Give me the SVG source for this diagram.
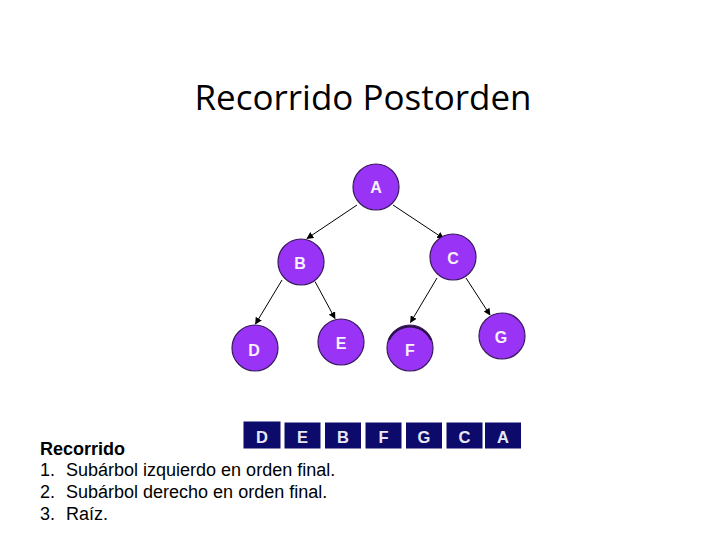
<svg xmlns="http://www.w3.org/2000/svg" width="728" height="546" viewBox="0 0 728 546">
<defs>
<marker id="arr" viewBox="0 0 10 10" refX="9" refY="5" markerWidth="7" markerHeight="7" orient="auto" markerUnits="userSpaceOnUse">
<path d="M0,0 L10,5 L0,10 z" fill="#000"/>
</marker>
</defs>
<style>
.node circle{fill:#9933f5;stroke:#3a1a5e;stroke-width:1.2}
.node text{font-family:"Liberation Sans",Arial,sans-serif;font-weight:bold;font-size:16px;fill:#f8f0ff;text-anchor:middle}
.edge{stroke:#000;stroke-width:1;marker-end:url(#arr)}
.cell rect{fill:#0c0a6a}
.cell text{font-family:"Liberation Sans",Arial,sans-serif;font-weight:bold;font-size:16.5px;fill:#e8e8f4;text-anchor:middle}
.txt{font-family:"Liberation Sans",Arial,sans-serif;font-size:18px;fill:#000}
</style>
<rect width="728" height="546" fill="#fff"/>
<text x="363" y="110" text-anchor="middle" font-family="'Open Sans',sans-serif" font-size="34" fill="#000" textLength="337" lengthAdjust="spacingAndGlyphs">Recorrido Postorden</text>
<g id="connectors">
<line class="edge" x1="357" y1="205" x2="307" y2="238.5"/>
<line class="edge" x1="393" y1="205" x2="443.5" y2="238.5"/>
<line class="edge" x1="282" y1="280" x2="255.5" y2="324"/>
<line class="edge" x1="315" y1="281.5" x2="335" y2="318.5"/>
<line class="edge" x1="437" y1="278" x2="410.5" y2="322.5"/>
<line class="edge" x1="466" y1="278" x2="490" y2="315"/>
</g>
<g id="node-A" class="node"><circle cx="376" cy="187" r="23"/><text x="376" y="193">A</text></g>
<g id="node-B" class="node"><circle cx="301" cy="262" r="23"/><text x="300" y="269">B</text></g>
<g id="node-C" class="node"><circle cx="453" cy="257" r="23"/><text x="453" y="264">C</text></g>
<g id="node-D" class="node"><circle cx="255" cy="348" r="23"/><text x="254" y="356">D</text></g>
<g id="node-E" class="node"><circle cx="341" cy="342" r="23"/><text x="341" y="349">E</text></g>
<g id="node-F" class="node"><circle cx="410" cy="348" r="23"/><path d="M389,340 A23,23 0 0 1 431,340" fill="none" stroke="#2a1245" stroke-width="2"/><text x="410" y="356">F</text></g>
<g id="node-G" class="node"><circle cx="502" cy="336" r="23"/><text x="501" y="343">G</text></g>
<g id="sequence">
<g class="cell"><rect x="243.5" y="421.5" width="37" height="27"/><text x="262" y="442.5">D</text></g>
<g class="cell"><rect x="284.5" y="422.5" width="36" height="26"/><text x="302.5" y="442.5">E</text></g>
<g class="cell"><rect x="325" y="422.5" width="36" height="26"/><text x="343" y="442.5">B</text></g>
<g class="cell"><rect x="365.5" y="422.5" width="36" height="26"/><text x="383.5" y="442.5">F</text></g>
<g class="cell"><rect x="406" y="422.5" width="36" height="26"/><text x="424" y="442.5">G</text></g>
<g class="cell"><rect x="446.5" y="422.5" width="36" height="26"/><text x="464.5" y="442.5">C</text></g>
<g class="cell"><rect x="485" y="422.5" width="36" height="26"/><text x="503" y="442.5">A</text></g>
</g>
<text class="txt" x="40" y="455" font-weight="bold">Recorrido</text>
<text class="txt" x="40" y="476">1.</text><text class="txt" x="66" y="476">Subárbol izquierdo en orden final.</text>
<text class="txt" x="40" y="498">2.</text><text class="txt" x="66" y="498">Subárbol derecho en orden final.</text>
<text class="txt" x="40" y="520">3.</text><text class="txt" x="66" y="520">Raíz.</text>
</svg>
